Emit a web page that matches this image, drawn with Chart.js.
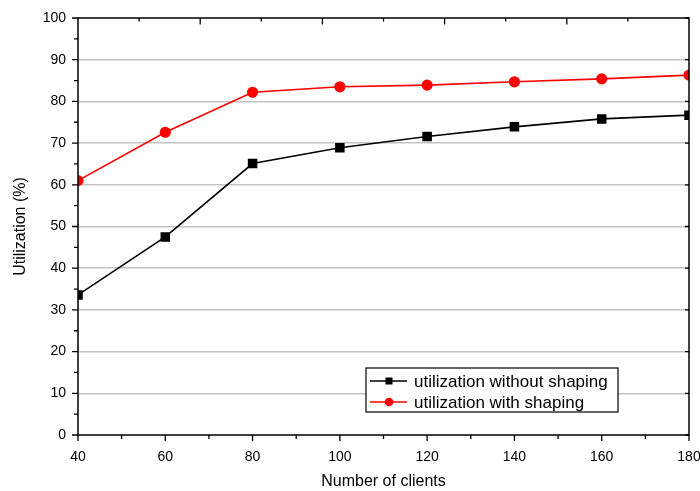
<!DOCTYPE html>
<html>
<head>
<meta charset="utf-8">
<script src="https://cdn.jsdelivr.net/npm/chart.js@4/dist/chart.umd.min.js"></script>
<style>
  html, body { margin: 0; padding: 0; background: #fff; }
  #wrap { width: 700px; height: 491px; }
</style>
</head>
<body>
<div id="wrap"><canvas id="canvas" width="700" height="491"></canvas></div>
<script>
const clients = [40, 60, 80, 100, 120, 140, 160, 180]
const withoutShaping = [33.6, 47.5, 65.1, 68.9, 71.6, 73.9, 75.8, 76.7]
const withShaping = [61.0, 72.6, 82.2, 83.5, 83.9, 84.7, 85.4, 86.3]
const seriesNames = ['utilization without shaping', 'utilization with shaping']

const FONT = '"Liberation Sans", Arial, Helvetica, sans-serif'

const toPoints = (ys) => clients.map((x, i) => ({ x: x, y: ys[i] }))

// frame, tick marks and the boxed legend inside the plot
const decorations = {
    id: 'decorations',
    afterDraw(chart) {
        const ctx = chart.ctx
        const a = chart.chartArea
        const xs = chart.scales.x
        const ys = chart.scales.y
        ctx.save()
        ctx.strokeStyle = '#000'
        ctx.lineWidth = 1.5
        ctx.strokeRect(a.left, a.top, a.right - a.left, a.bottom - a.top)

        ctx.lineWidth = 1.3
        ctx.beginPath()
        // left: outward, major every 10, minor every 5
        for (let v = 0; v <= 100; v += 5) {
            const p = ys.getPixelForValue(v)
            const len = v % 10 === 0 ? 6 : 4
            ctx.moveTo(a.left, p); ctx.lineTo(a.left - len, p)
        }
        // right: inward every 10
        for (let v = 0; v <= 100; v += 10) {
            const p = ys.getPixelForValue(v)
            ctx.moveTo(a.right, p); ctx.lineTo(a.right - 4, p)
        }
        // bottom: outward, major every 20, minor every 10
        for (let v = 40; v <= 180; v += 10) {
            const p = xs.getPixelForValue(v)
            const len = v % 20 === 0 ? 6 : 4
            ctx.moveTo(p, a.bottom); ctx.lineTo(p, a.bottom + len)
        }
        // top: inward, ten equal divisions
        for (let i = 1; i < 10; i++) {
            const p = xs.getPixelForValue(40 + i * 14)
            const len = i % 2 === 0 ? 6.5 : 3.5
            ctx.moveTo(p, a.top); ctx.lineTo(p, a.top + len)
        }
        ctx.stroke()

        // legend
        const bx = 366, by = 368, bw = 252, bh = 44
        ctx.fillStyle = '#fff'
        ctx.fillRect(bx, by, bw, bh)
        ctx.lineWidth = 1.2
        ctx.strokeStyle = '#000'
        ctx.strokeRect(bx, by, bw, bh)
        const rows = [381, 402]
        chart.data.datasets.forEach((ds, i) => {
            const y = rows[i]
            ctx.strokeStyle = ds.borderColor
            ctx.lineWidth = 1.6
            ctx.beginPath()
            ctx.moveTo(370, y); ctx.lineTo(407, y)
            ctx.stroke()
            ctx.fillStyle = ds.backgroundColor
            if (ds.pointStyle === 'rect') {
                ctx.fillRect(385.5, y - 3.5, 7, 7)
            } else {
                ctx.beginPath()
                ctx.arc(389, y, 4.3, 0, Math.PI * 2)
                ctx.fill()
            }
            ctx.fillStyle = '#000'
            ctx.font = '17px ' + FONT
            ctx.textBaseline = 'middle'
            ctx.textAlign = 'left'
            ctx.fillText(ds.label, 414, y + 1)
        })
        ctx.restore()
    }
}

const data = {
    datasets: [
        {
            label: seriesNames[0],
            data: toPoints(withoutShaping),
            borderColor: '#000',
            backgroundColor: '#000',
            borderWidth: 1.6,
            pointStyle: 'rect',
            pointRadius: 5.6,
            pointHoverRadius: 5.6,
        },
        {
            label: seriesNames[1],
            data: toPoints(withShaping),
            borderColor: '#ff0000',
            backgroundColor: '#ff0000',
            borderWidth: 1.6,
            pointStyle: 'circle',
            pointRadius: 4.8,
            pointHoverRadius: 4.8,
        },
    ],
}

const config = {
    type: 'line',
    data: data,
    plugins: [decorations],
    options: {
        responsive: false,
        animation: false,
        events: [],
        layout: { padding: { left: 0, top: 18, right: 11, bottom: 0 } },
        plugins: {
            legend: { display: false },
            tooltip: { enabled: false },
        },
        scales: {
            x: {
                type: 'linear',
                min: 40,
                max: 180,
                grid: { display: false },
                border: { display: false },
                ticks: {
                    stepSize: 20,
                    color: '#000',
                    font: { family: FONT, size: 14 },
                    padding: 6,
                    maxRotation: 0,
                },
                title: {
                    display: true,
                    text: 'Number of clients',
                    color: '#000',
                    font: { family: FONT, size: 16 },
                    padding: { top: 0, bottom: 0 },
                },
                afterFit(scale) {
                    scale.height = 56
                    scale.paddingLeft = 0
                    scale.paddingRight = 0
                },
            },
            y: {
                min: 0,
                max: 100,
                grid: {
                    drawTicks: false,
                    lineWidth: 1.5,
                    color: (c) => (c.tick && c.tick.value > 0 && c.tick.value < 100) ? '#c4c4c4' : 'rgba(0,0,0,0)',
                },
                border: { display: false },
                ticks: {
                    stepSize: 10,
                    color: '#000',
                    font: { family: FONT, size: 14 },
                    padding: 12,
                },
                title: {
                    display: true,
                    text: 'Utilization (%)',
                    color: '#000',
                    font: { family: FONT, size: 16 },
                    padding: { top: 11, bottom: 0 },
                },
                afterFit(scale) {
                    scale.width = 78
                    scale.paddingTop = 0
                    scale.paddingBottom = 0
                },
            },
        },
    },
}

const canvas = document.getElementById('canvas')
const chart = new Chart(canvas, config)
</script>
</body>
</html>
